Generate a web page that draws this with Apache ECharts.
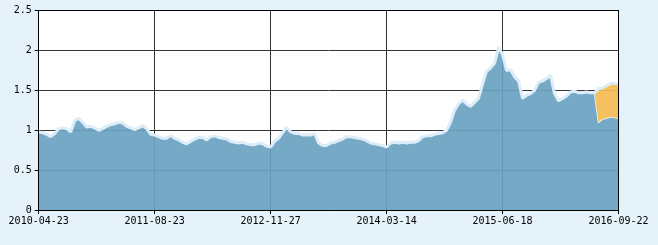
<!DOCTYPE html>
<html>
<head>
<meta charset="utf-8">
<script src="https://cdn.jsdelivr.net/npm/echarts@6/dist/echarts.min.js"></script>
<style>
html,body{margin:0;padding:0;background:#e6f2fa;}
#c{width:658px;height:245px;}
</style>
</head>
<body>
<div id="c"></div>
<script>
var tickLabels = ['2010-04-23','2011-08-23','2012-11-27','2014-03-14','2015-06-18','2016-09-22'];
var pointsPerTick = 29;

var unitValue = [
0.98,0.97,0.95,0.92,0.96,1.02,1.03,1.02,0.98,1.12,
1.15,1.10,1.04,1.05,1.03,1.00,1.02,1.05,1.07,1.08,
1.10,1.09,1.05,1.03,1.01,1.03,1.06,1.02,0.95,0.94,
0.92,0.90,0.90,0.94,0.90,0.88,0.85,0.83,0.86,0.89,
0.91,0.91,0.88,0.92,0.93,0.91,0.90,0.89,0.86,0.85,
0.84,0.85,0.83,0.82,0.82,0.84,0.83,0.80,0.79,0.86,
0.90,0.97,1.04,0.98,0.96,0.96,0.94,0.94,0.94,0.96,
0.84,0.81,0.81,0.84,0.85,0.87,0.89,0.92,0.92,0.91,
0.90,0.89,0.87,0.84,0.83,0.82,0.81,0.79,0.84,0.85,
0.84,0.85,0.84,0.85,0.85,0.87,0.92,0.93,0.93,0.95,
0.96,0.97,1.00,1.10,1.25,1.33,1.38,1.33,1.30,1.35,
1.40,1.58,1.74,1.78,1.84,2.04,1.95,1.75,1.76,1.67,
1.62,1.40,1.44,1.46,1.50,1.60,1.62,1.65,1.69,1.46,
1.37,1.40,1.43,1.48,1.49,1.47,1.47,1.48,1.47,1.47,
1.10,1.14,1.15,1.17,1.16,1.15
];

var cumulativeValue = [
0.98,0.97,0.95,0.92,0.96,1.02,1.03,1.02,0.98,1.12,
1.15,1.10,1.04,1.05,1.03,1.00,1.02,1.05,1.07,1.08,
1.10,1.09,1.05,1.03,1.01,1.03,1.06,1.02,0.95,0.94,
0.92,0.90,0.90,0.94,0.90,0.88,0.85,0.83,0.86,0.89,
0.91,0.91,0.88,0.92,0.93,0.91,0.90,0.89,0.86,0.85,
0.84,0.85,0.83,0.82,0.82,0.84,0.83,0.80,0.79,0.86,
0.90,0.97,1.04,0.98,0.96,0.96,0.94,0.94,0.94,0.96,
0.84,0.81,0.81,0.84,0.85,0.87,0.89,0.92,0.92,0.91,
0.90,0.89,0.87,0.84,0.83,0.82,0.81,0.79,0.84,0.85,
0.84,0.85,0.84,0.85,0.85,0.87,0.92,0.93,0.93,0.95,
0.96,0.97,1.00,1.10,1.25,1.33,1.38,1.33,1.30,1.35,
1.40,1.58,1.74,1.78,1.84,2.04,1.95,1.75,1.76,1.67,
1.62,1.40,1.44,1.46,1.50,1.60,1.62,1.65,1.69,1.46,
1.37,1.40,1.43,1.48,1.49,1.47,1.47,1.48,1.47,1.47,
1.52,1.53,1.56,1.59,1.59,1.58
];

var yMin = 0, yMax = 2.5, yStep = 0.5;

// category slots: tick label at every pointsPerTick-th slot
var categories = unitValue.map(function (v, i) {
  return (i % pointsPerTick === 0) ? tickLabels[i / pointsPerTick] : '';
});
var extra = cumulativeValue.map(function (c, i) {
  return +(c - unitValue[i]).toFixed(4);
});
function onTick(idx) { return idx % pointsPerTick === 0; }

var font = 'DejaVu Sans Mono';
var chart = echarts.init(document.getElementById('c'), null, {renderer: 'canvas'});
chart.setOption({
  backgroundColor: '#e6f2fa',
  animation: false,
  grid: {left: 38.7, right: 39.5, top: 10.7, bottom: 35, show: true, backgroundColor: '#ffffff', borderWidth: 0},
  xAxis: [
    {
      type: 'category', data: categories, boundaryGap: false, z: 0,
      axisLine: {show: false}, axisTick: {show: false}, axisLabel: {show: false},
      splitLine: {show: true, interval: onTick, lineStyle: {color: '#333333', width: 1}}
    },
    {
      type: 'category', data: categories, boundaryGap: false, z: 10, position: 'bottom',
      axisLine: {show: true, lineStyle: {color: '#000', width: 1}},
      axisTick: {show: true, interval: onTick, length: 4, lineStyle: {color: '#000'}},
      axisLabel: {show: true, interval: onTick, margin: 6, color: '#000', fontFamily: font, fontSize: 10},
      splitLine: {show: false}
    },
    {
      type: 'category', data: categories, boundaryGap: false, z: 10, position: 'top',
      axisLine: {show: true, onZero: false, lineStyle: {color: '#000', width: 1}},
      axisTick: {show: false}, axisLabel: {show: false}, splitLine: {show: false}
    }
  ],
  yAxis: [
    {
      type: 'value', min: yMin, max: yMax, interval: yStep, z: 0,
      axisLine: {show: false}, axisTick: {show: false}, axisLabel: {show: false},
      splitLine: {show: true, lineStyle: {color: '#333333', width: 1}}
    },
    {
      type: 'value', min: yMin, max: yMax, interval: yStep, z: 10, position: 'left',
      axisLine: {show: true, lineStyle: {color: '#000', width: 1}},
      axisTick: {show: true, length: 4, lineStyle: {color: '#000'}},
      axisLabel: {show: true, margin: 7, color: '#000', fontFamily: font, fontSize: 10},
      splitLine: {show: false}
    },
    {
      type: 'value', min: yMin, max: yMax, interval: yStep, z: 10, position: 'right',
      axisLine: {show: true, onZero: false, lineStyle: {color: '#000', width: 1}},
      axisTick: {show: false}, axisLabel: {show: false}, splitLine: {show: false}
    }
  ],
  series: [
    {
      name: '单位净值', type: 'line', data: unitValue, stack: 'nav',
      xAxisIndex: 0, yAxisIndex: 0, symbol: 'none', z: 2,
      lineStyle: {color: '#f2f9fe', width: 1.5},
      areaStyle: {color: 'rgb(105,162,193)', opacity: 0.92}
    },
    {
      name: '累计净值', type: 'line', data: extra, stack: 'nav',
      xAxisIndex: 0, yAxisIndex: 0, symbol: 'none', z: 3,
      lineStyle: {color: '#dcedf9', width: 3},
      areaStyle: {color: 'rgb(244,187,82)', opacity: 0.92}
    }
  ]
});
</script>
</body>
</html>
